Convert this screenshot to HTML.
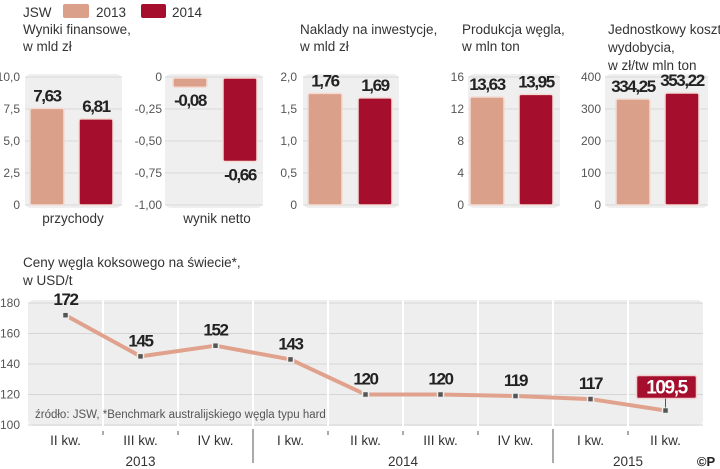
<!DOCTYPE html>
<html><head><meta charset="utf-8"><style>
html,body{margin:0;padding:0;background:#fff}
svg{display:block}
text{font-family:"Liberation Sans",sans-serif}
.t{font-size:13.5px;fill:#333}
.tk{font-size:12px;fill:#555}
.v{font-size:17px;font-weight:bold;fill:#222;letter-spacing:-1.4px}
</style></head><body>
<svg id="c" width="720" height="469" viewBox="0 0 720 469">
  <g>
    <text class="t" x="23" y="17">JSW</text>
    <rect x="63" y="4" width="26" height="14" rx="2" fill="#dba08a"/>
    <text class="t" x="96" y="17">2013</text>
    <rect x="141" y="4" width="25" height="14" rx="2" fill="#a50f2d"/>
    <text class="t" x="172" y="17">2014</text>
  </g>
  <g>
    <text class="t" x="23" y="34">Wyniki finansowe,</text>
    <text class="t" x="23" y="51">w mld zł</text>
    <text class="t" x="300" y="34">Naklady na inwestycje,</text>
    <text class="t" x="300" y="51">w mld zł</text>
    <text class="t" x="462" y="34">Produkcja węgla,</text>
    <text class="t" x="462" y="51">w mln ton</text>
    <text class="t" x="608" y="34">Jednostkowy koszt</text>
    <text class="t" x="608" y="52">wydobycia,</text>
    <text class="t" x="608" y="70">w zł/tw mln ton</text>
    <text class="t" x="73" y="223" text-anchor="middle">przychody</text>
    <text class="t" x="217" y="223" text-anchor="middle">wynik netto</text>
    <text class="t" x="23" y="267">Ceny węgla koksowego na świecie*,</text>
    <text class="t" x="23" y="285">w USD/t</text>
  </g>
  <g id="bars"></g>
  <g id="line"></g>
  <text class="tk" x="35" y="418" style="font-size:11.5px;fill:#555">źródło: JSW,  *Benchmark australijskiego węgla typu hard</text>
  <text x="706" y="466" text-anchor="middle" style="font-size:13px;font-weight:bold;fill:#222">©P</text>
</svg>
<script>
// bar panel data
const panelNames = ['przychody','wynik-netto','naklady','produkcja','koszt'];
const values2013 = [7.63, -0.08, 1.76, 13.63, 334.25];
const values2014 = [6.81, -0.66, 1.69, 13.95, 353.22];
const labels2013 = ['7,63','-0,08','1,76','13,63','334,25'];
const labels2014 = ['6,81','-0,66','1,69','13,95','353,22'];
const axisMin = [0, -1, 0, 0, 0];
const axisMax = [10, 0, 2, 16, 400];
const tickLabels = [
  ['0','2,5','5,0','7,5','10,0'],
  ['-1,00','-0,75','-0,50','-0,25','0'],
  ['0','0,5','1,0','1,5','2,0'],
  ['0','4','8','12','16'],
  ['0','100','200','300','400']
];
// line chart data
const quarters = ['II kw.','III kw.','IV kw.','I kw.','II kw.','III kw.','IV kw.','I kw.','II kw.'];
const prices = [172,145,152,143,120,120,119,117,109.5];
const priceLabels = ['172','145','152','143','120','120','119','117','109,5'];
const priceTicks = [100,120,140,160,180];
const years = ['2013','2014','2015'];
const yearSpans = [[0,3],[3,7],[7,9]];

const NS='http://www.w3.org/2000/svg';
function mk(tag, attrs, parent, txt){const e=document.createElementNS(NS,tag);for(const k in attrs)e.setAttribute(k,attrs[k]);if(txt!==undefined)e.textContent=txt;parent.appendChild(e);return e;}

const layout=[
  {tick:20,bg:[25,122],b1:30,b2:79},
  {tick:162,bg:[165,263],b1:173,b2:223},
  {tick:297,bg:[303,399],b1:308,b2:358},
  {tick:464,bg:[468,560],b1:470,b2:519},
  {tick:601,bg:[605,708],b1:616,b2:665}
];
const BW=34, YT=77, YB=205;
const bars=document.getElementById('bars');
panelNames.forEach((nm,i)=>{
  const L=layout[i];
  const y=v=>YB-(v-axisMin[i])/(axisMax[i]-axisMin[i])*(YB-YT);
  const g=mk('g',{},bars);
  
  
  const bg=mk('rect',{x:L.bg[0],y:YT-3,width:L.bg[1]-L.bg[0],height:YB-YT+6,rx:6,fill:'#efefef'},g);
  
  
  tickLabels[i].forEach((t,k)=>{
    const v=axisMin[i]+k*(axisMax[i]-axisMin[i])/(tickLabels[i].length-1);
    const gl=mk('line',{x1:L.bg[0],x2:L.bg[1],y1:y(v),y2:y(v),stroke:'#d8d8d8','stroke-width':1},g);
    
    
    const tl=mk('text',{class:'tk',x:L.tick,y:y(v)+4,'text-anchor':'end'},g,t);
    
    
  });
  const zero=y(0);
  [[values2013[i],labels2013[i],L.b1,'#dba08a','bar-2013'],[values2014[i],labels2014[i],L.b2,'#a50f2d','bar-2014']].forEach(([v,lab,x,col,n])=>{
    const yv=y(v);
    const top=Math.min(yv,zero), h=Math.abs(yv-zero);
    const r=mk('rect',{x:x,y:top+1,width:BW,height:Math.max(h-1,1),rx:2,fill:col,stroke:'#f4dcd4','stroke-width':1.5},g);
    
    
    const ly = v>=0 ? yv-6 : yv+19;
    const t=mk('text',{class:'v',x:x+BW/2,y:ly,'text-anchor':'middle'},g,lab);
    
    
  });
});

// line chart
const lg=document.getElementById('line');
const X0=28, CW=75, LT=303, LB=425, PMIN=100, PMAX=180;
const xq=i=>X0+CW*i+CW/2;
const yp=v=>LB-(v-PMIN)/(PMAX-PMIN)*(LB-LT);
const lbg=mk('rect',{x:X0,y:LT-3,width:CW*quarters.length,height:LB-LT+4,rx:6,fill:'#eeeeee'},lg);


priceTicks.forEach(v=>{
  const gl=mk('line',{x1:X0,x2:X0+CW*quarters.length,y1:yp(v),y2:yp(v),stroke:'#d6d6d6'},lg);
  
  
  const t=mk('text',{class:'tk',x:20,y:yp(v)+4,'text-anchor':'end'},lg,String(v));
  
  
});
for(let i=1;i<quarters.length;i++){
  const s=mk('line',{x1:X0+CW*i,x2:X0+CW*i,y1:LT-3,y2:LB+1,stroke:'#fff','stroke-width':2},lg);
  
  
  const tk=mk('line',{x1:X0+CW*i,x2:X0+CW*i,y1:LB+6,y2:LB+10,stroke:'#555'},lg);
  
  
}
yearSpans.forEach((sp,k)=>{
  if(k>0){const yl=mk('line',{x1:X0+CW*sp[0],x2:X0+CW*sp[0],y1:LB+4,y2:LB+38,stroke:'#555'},lg);
  
  }
  const t=mk('text',{class:'t',x:(xq(sp[0])+xq(sp[1]-1))/2,y:466,'text-anchor':'middle'},lg,years[k]);
  
  
});
const pts=prices.map((v,i)=>xq(i)+','+yp(v)).join(' ');
const pl=mk('polyline',{points:pts,fill:'none',stroke:'#e0a28c','stroke-width':4,'stroke-linejoin':'round'},lg);


prices.forEach((v,i)=>{
  const m=mk('rect',{x:xq(i)-3,y:yp(v)-3,width:6,height:6,fill:'#555',stroke:'#eee','stroke-width':1.5},lg);
  
  
  const q=mk('text',{class:'t',x:xq(i),y:445,'text-anchor':'middle'},lg,quarters[i]);
  
  
  if(i===prices.length-1){
    const bx=mk('rect',{x:xq(i)-29,y:yp(v)-35,width:60,height:23,rx:2,fill:'#a50f2d',stroke:'#f0d0d0','stroke-width':1.5},lg);
    
    
    const ln=mk('line',{x1:xq(i),x2:xq(i),y1:yp(v)-12,y2:yp(v)-3,stroke:'#555'},lg);
    
    
    const t=mk('text',{class:'v',x:xq(i)+1,y:yp(v)-17,'text-anchor':'middle',style:'fill:#fff;font-size:19px'},lg,priceLabels[i]);
    
    
  } else {
    const t=mk('text',{class:'v',x:xq(i),y:yp(v)-10,'text-anchor':'middle'},lg,priceLabels[i]);
    
    
  }
});
</script>
</body></html>
